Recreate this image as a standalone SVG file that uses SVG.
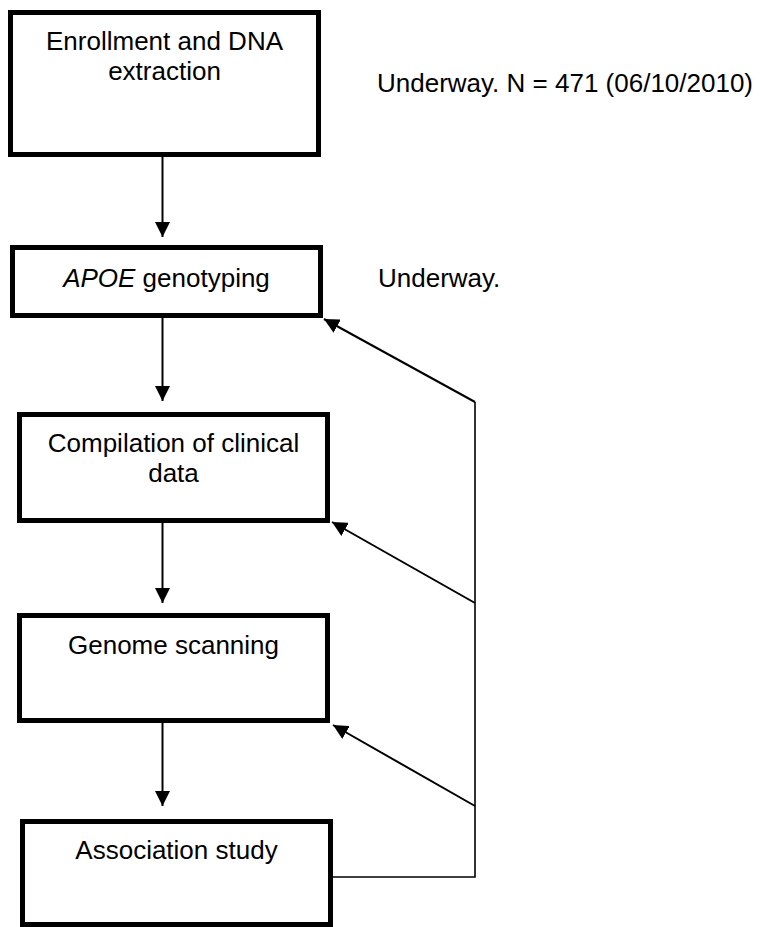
<svg xmlns="http://www.w3.org/2000/svg" width="766" height="927" viewBox="0 0 766 927">
<style>
.box{fill:#fff;stroke:#000;stroke-width:5}
.t{font-family:"Liberation Sans",Arial,sans-serif;font-size:26px;fill:#000}
.c{text-anchor:middle}
.ln{fill:none;stroke:#000;stroke-width:2}
.thin{fill:none;stroke:#000;stroke-width:1.6}
</style>
<defs>
<marker id="ah" markerUnits="userSpaceOnUse" markerWidth="15" markerHeight="15" refX="15" refY="7.5" orient="auto" viewBox="0 0 15 15">
<path d="M0,0 L15,7.5 L0,15 z" fill="#000"/>
</marker>
</defs>
<rect width="766" height="927" fill="#fff"/>
<g id="n1">
<rect class="box" x="10.5" y="12.5" width="308" height="142"/>
<text class="t c" x="164.5" y="50">Enrollment and DNA</text>
<text class="t c" x="164.5" y="80">extraction</text>
</g>
<g id="n2">
<rect class="box" x="12.5" y="247.5" width="308" height="68"/>
<text class="t c" x="166.5" y="287"><tspan font-style="italic">APOE</tspan> genotyping</text>
</g>
<g id="n3">
<rect class="box" x="19.5" y="414.5" width="308" height="106"/>
<text class="t c" x="173.5" y="452">Compilation of clinical</text>
<text class="t c" x="173.5" y="482">data</text>
</g>
<g id="n4">
<rect class="box" x="19.5" y="615.5" width="308" height="105"/>
<text class="t c" x="173.5" y="654">Genome scanning</text>
</g>
<g id="n5">
<rect class="box" x="22.5" y="821.5" width="308" height="103"/>
<text class="t c" x="176.5" y="859">Association study</text>
</g>
<g id="notes">
<text class="t" x="377" y="92">Underway. N = 471 (06/10/2010)</text>
<text class="t" x="378" y="287">Underway.</text>
</g>
<g id="connectors">
<line class="ln" x1="162.5" y1="157" x2="162.5" y2="237" marker-end="url(#ah)"/>
<line class="ln" x1="162.5" y1="318" x2="162.5" y2="401" marker-end="url(#ah)"/>
<line class="ln" x1="162.5" y1="523" x2="162.5" y2="603" marker-end="url(#ah)"/>
<line class="ln" x1="162.5" y1="723" x2="162.5" y2="806" marker-end="url(#ah)"/>
<polyline class="thin" points="333,877 475,877 475,402"/>
<line class="ln" x1="475" y1="402" x2="324" y2="319" marker-end="url(#ah)"/>
<line class="ln" x1="475" y1="603" x2="332" y2="522" marker-end="url(#ah)"/>
<line class="ln" x1="475" y1="806" x2="333" y2="725" marker-end="url(#ah)"/>
</g>
</svg>
